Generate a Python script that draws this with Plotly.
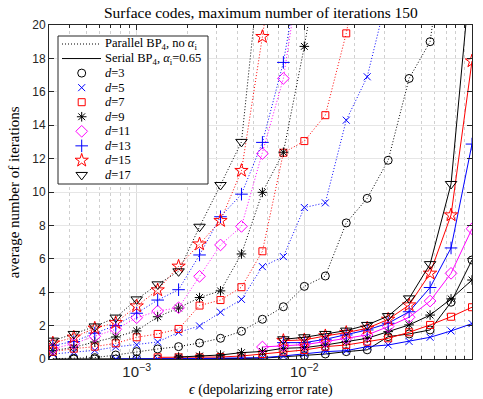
import plotly.graph_objects as go

# depolarizing error rates (x values)
eps = [3.162e-4, 4.217e-4, 5.623e-4, 7.499e-4, 1.0e-3, 1.334e-3, 1.778e-3, 2.371e-3,
       3.162e-3, 4.217e-3, 5.623e-3, 7.499e-3, 1.0e-2, 1.334e-2, 1.778e-2, 2.371e-2,
       3.162e-2, 4.217e-2, 5.623e-2, 7.499e-2, 1.0e-1]

distances = [3, 5, 7, 9, 11, 13, 15, 17]

# Parallel BP4, no alpha (starting at eps[0])
par_d3 = [0.02, 0.04, 0.08, 0.24, 0.44, 0.6, 0.74, 0.96, 1.24, 1.66, 2.38, 3.13, 4.35, 4.97, 8.15, 9.62, 11.9, 16.8, 19.0, 28]
par_d5 = [0.3, 0.42, 0.52, 0.72, 0.85, 1.02, 1.6, 1.98, 2.8, 3.57, 5.53, 6.13, 9.07, 9.35, 14.3, 16.9, 22]
par_d7 = [0.44, 0.62, 0.74, 0.94, 1.3, 1.5, 1.8, 3.2, 3.53, 4.3, 6.45, 12.35, 13.05, 14.6, 19.5, 26]
par_d9 = [0.5, 0.7, 1.02, 1.32, 1.68, 2.53, 3.05, 3.68, 4.08, 6.29, 9.98, 12.38, 18.72, 26]
par_d11 = [0.62, 0.92, 1.36, 1.78, 2.47, 2.87, 3.07, 4.95, 6.83, 7.94, 12.3, 16.8, 25]
par_d13 = [0.82, 1.04, 1.55, 2.0, 2.74, 3.53, 4.15, 6.23, 8.52, 9.87, 12.97, 17.76, 25]
par_d15 = [0.95, 1.3, 1.84, 2.17, 3.17, 4.13, 5.55, 6.88, 8.28, 11.28, 19.3, 28]
par_d17 = [1.1, 1.5, 1.95, 2.48, 3.57, 4.47, 5.25, 7.92, 10.42, 13.0, 25]

# Serial BP4, alpha_i = 0.65 (None = not simulated)
ser_d3 = [0.0, 0.0, 0.0, 0.0, 0.0, 0.01, 0.01, 0.02, 0.02, 0.03, 0.05, 0.12, 0.2, 0.3, 0.44, 0.55, 1.34, 1.5, 1.74, 3.4, 5.93]
ser_d5 = [None, None, None, 0.0, 0.0, 0.01, 0.02, 0.03, 0.05, 0.06, 0.08, 0.18, 0.3, 0.44, 0.5, 0.74, 0.84, 1.05, 1.3, 1.68, 2.12]
ser_d7 = [None, None, None, None, None, 0.1, 0.1, 0.1, 0.12, 0.18, 0.3, 0.44, 0.54, 0.74, 0.84, 1.04, 1.24, 1.6, 2.04, 2.53, 3.1]
ser_d9 = [None, None, None, None, None, None, 0.12, 0.18, 0.24, 0.38, 0.45, 0.64, 0.68, 0.84, 1.04, 1.24, 1.64, 2.04, 2.63, 3.6, 4.73]
ser_d11 = [None] * 10 + [0.72, 0.8, 0.86, 1.04, 1.24, 1.44, 1.94, 2.5, 3.47, 5.13, 7.8]
ser_d13 = [None] * 11 + [0.98, 0.98, 1.18, 1.44, 1.74, 2.14, 2.83, 4.28, 6.65, 12.87]
ser_d15 = [None] * 11 + [1.1, 1.14, 1.38, 1.58, 1.84, 2.37, 3.23, 5.13, 8.62, 17.84]
ser_d17 = [None] * 11 + [1.18, 1.3, 1.5, 1.7, 2.04, 2.57, 3.63, 5.68, 10.48, 24]

par_all = [par_d3, par_d5, par_d7, par_d9, par_d11, par_d13, par_d15, par_d17]
ser_all = [ser_d3, ser_d5, ser_d7, ser_d9, ser_d11, ser_d13, ser_d15, ser_d17]

legend_labels = ['Parallel BP<sub>4</sub>, no <i>α</i><sub>i</sub>',
                 'Serial BP<sub>4</sub>, <i>α</i><sub>i</sub>=0.65'] + [f'<i>d</i>={d}' for d in distances]

colors = ['#000000', '#0000ff', '#ff0000', '#000000', '#ff00ff', '#0000ff', '#ff0000', '#000000']
symbols = ['circle-open', 'x-thin-open', 'square-open', 'asterisk-open', 'diamond-open',
           'cross-thin-open', 'star-open', 'triangle-down-open']
sizes = [8, 7, 7, 8, 9, 9, 10, 10]

SERIF = 'Liberation Serif'
DOT = '1px,2px'

# figure geometry (pixels)
W, H = 483, 399
ML, MR, MT, MB = 49, 11, 25, 40
PW, PH = W - ML - MR, H - MT - MB

fig = go.Figure()

for d, p, s, c, sym, sz in zip(distances, par_all, ser_all, colors, symbols, sizes):
    fig.add_trace(go.Scatter(x=eps[:len(p)], y=p, mode='lines+markers', showlegend=False,
                             line=dict(color=c, width=1, dash=DOT),
                             marker=dict(symbol=sym, size=sz, color=c, line=dict(color=c, width=1))))
    fig.add_trace(go.Scatter(x=eps, y=s, mode='lines+markers', showlegend=False,
                             line=dict(color=c, width=1),
                             marker=dict(symbol=sym, size=sz, color=c, line=dict(color=c, width=1))))

# ---- compact legend box drawn on an overlay subplot (coordinates in pixels) ----
LX0, LX1, LY0, LY1 = 58, 208, 36, 184
ROW0, ROWSTEP = 44, 14.55
fig.add_trace(go.Scatter(x=[LX0, LX1, LX1, LX0, LX0], y=[LY0, LY0, LY1, LY1, LY0],
                         mode='lines', fill='toself', fillcolor='white',
                         line=dict(color='#262626', width=1), showlegend=False, hoverinfo='skip',
                         xaxis='x2', yaxis='y2'))
fig.add_trace(go.Scatter(x=[62, 101], y=[ROW0, ROW0], mode='lines', showlegend=False,
                         line=dict(color='#000000', width=1, dash=DOT), xaxis='x2', yaxis='y2'))
fig.add_trace(go.Scatter(x=[62, 101], y=[ROW0 + ROWSTEP] * 2, mode='lines', showlegend=False,
                         line=dict(color='#000000', width=1), xaxis='x2', yaxis='y2'))
for i, (c, sym, sz) in enumerate(zip(colors, symbols, sizes)):
    fig.add_trace(go.Scatter(x=[81.7], y=[ROW0 + (i + 2) * ROWSTEP], mode='markers', showlegend=False,
                             marker=dict(symbol=sym, size=sz, color=c, line=dict(color=c, width=1)),
                             xaxis='x2', yaxis='y2'))

annotations = []
for i, lab in enumerate(legend_labels):
    annotations.append(dict(text=lab, xref='x2', yref='y2', x=103, y=ROW0 + i * ROWSTEP,
                            xanchor='left', yanchor='middle', showarrow=False,
                            font=dict(family=SERIF, size=12.5, color='#000000')))

annotations += [
    dict(text='Surface codes, maximum number of iterations 150', xref='paper', yref='paper',
         x=0.5, y=1, yshift=2, xanchor='center', yanchor='bottom', showarrow=False,
         font=dict(family=SERIF, size=15.5, color='#000000')),
    dict(text='average number of iterations', xref='paper', yref='paper',
         x=-0.082, y=0.5, xanchor='center', yanchor='middle', textangle=-90, showarrow=False,
         font=dict(family=SERIF, size=15, color='#000000')),
    dict(text='<i>ϵ</i> (depolarizing error rate)', xref='paper', yref='paper',
         x=0.5, y=0, yshift=-31, xanchor='center', yanchor='middle', showarrow=False,
         font=dict(family=SERIF, size=14, color='#000000')),
]

axis_common = dict(showline=True, linecolor='#262626', linewidth=1, mirror='allticks',
                   ticks='inside', ticklen=5, tickcolor='#262626',
                   tickfont=dict(family='Liberation Sans', size=12, color='#262626'),
                   zeroline=False)

fig.update_layout(
    xaxis=dict(type='log', range=[-3.523, -1], dtick=1, exponentformat='power',
               showgrid=True, gridcolor='#dcdcdc', gridwidth=1,
               minor=dict(dtick='D1', ticks='inside', ticklen=3, tickcolor='#262626',
                          showgrid=True, gridcolor='#cfcfcf', griddash='dot', gridwidth=1),
               **axis_common),
    yaxis=dict(range=[0, 20], dtick=2, showgrid=True, gridcolor='#e6e6e6', gridwidth=1,
               **axis_common),
    xaxis2=dict(domain=[(LX0 - 1 - ML) / PW, (LX1 + 1 - ML) / PW], range=[LX0 - 1, LX1 + 1],
                anchor='y2', visible=False, showgrid=False, zeroline=False, fixedrange=True),
    yaxis2=dict(domain=[(H - MB - (LY1 + 1)) / PH, (H - MB - (LY0 - 1)) / PH], range=[LY1 + 1, LY0 - 1],
                anchor='x2', visible=False, showgrid=False, zeroline=False, fixedrange=True),
    width=W, height=H,
    margin=dict(l=ML, r=MR, t=MT, b=MB),
    plot_bgcolor='white', paper_bgcolor='white',
    showlegend=False,
    annotations=annotations,
)

fig.write_html('out.html')
